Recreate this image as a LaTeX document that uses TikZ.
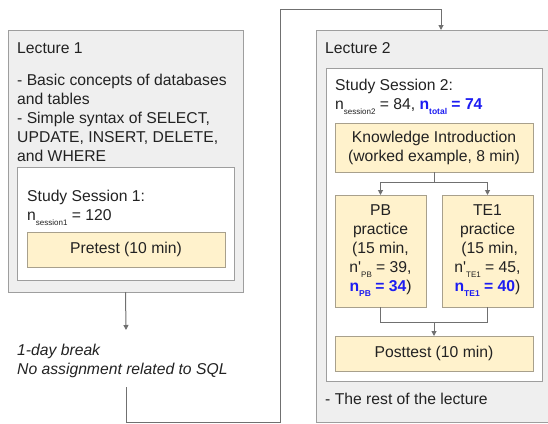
\documentclass[tikz,border=0pt]{standalone}
\usepackage{fontspec}
\setmainfont{Liberation Sans}
\usetikzlibrary{arrows.meta}
\definecolor{lecfill}{HTML}{EFEFEF}
\definecolor{boxline}{HTML}{9E9E9E}
\definecolor{stepfill}{HTML}{FFF2CC}
\definecolor{stepline}{HTML}{A8A08C}
\definecolor{nblue}{HTML}{1C1CF2}
\definecolor{ink}{HTML}{222222}
\definecolor{conn}{HTML}{707070}
\newcommand{\sbs}[1]{\raisebox{-5pt}{\fontsize{8}{8}\selectfont #1}}
\newcommand{\bsb}[1]{\raisebox{-5pt}{\fontsize{8.5}{8}\selectfont\bfseries #1}}
\begin{document}
\begin{tikzpicture}[x=1pt,y=-1pt,
  every node/.style={text=ink},
  basebox/.style={line width=1pt, anchor=north west, inner sep=0pt, outer sep=0pt},
  lecbox/.style={basebox, draw=boxline, fill=lecfill},
  sessbox/.style={basebox, draw=boxline, fill=white},
  stepbox/.style={basebox, draw=stepline, fill=stepfill, align=center,
    font=\fontsize{15.7}{19}\selectfont},
  txt/.style={inner sep=0pt, anchor=base west, align=left,
    font=\fontsize{15.7}{19}\selectfont},
  conline/.style={draw=conn, line width=1pt},
  arr/.style={conline, -{Triangle[width=5pt,length=5pt]}}
]
\useasboundingbox (0,0) rectangle (548,423);
\clip (0,0) rectangle (548,423);

% Lecture 1 (multi-line text nodes are placed by the baseline of their last line)
\node[lecbox, minimum width=235pt, minimum height=262pt] (l1) at (8,30) {};
\node[txt] (l1t) at (17,53) {Lecture 1};
\node[txt] (l1b) at (17,161) {- Basic concepts of databases\\and tables\\- Simple syntax of SELECT,\\UPDATE, INSERT, DELETE,\\and WHERE};
\node[sessbox, minimum width=217pt, minimum height=113pt] (s1) at (17,167) {};
\node[txt] (s1t) at (27,220) {Study Session 1:\\n\sbs{session1} = 120};
\node[stepbox, minimum width=198pt, minimum height=35pt] (pre) at (27,232) {Pretest (10 min)};

% break
\node[txt, font=\fontsize{15.7}{19}\selectfont\itshape] (brk) at (17,374) {1-day break\\No assignment related to SQL};
\coordinate (brkend) at (126,387);

% Lecture 2
\node[lecbox, minimum width=250pt, minimum height=392pt] (l2) at (316,30) {};
\node[txt] (l2t) at (325,53) {Lecture 2};
\node[sessbox, minimum width=216pt, minimum height=313pt] (s2) at (326,68) {};
\node[txt] (s2t) at (335,109) {Study Session 2:\\n\sbs{session2} = 84, {\color{nblue}\bfseries n\bsb{total} = 74}};
\node[stepbox, minimum width=198pt, minimum height=49pt] (ki) at (335,123) {Knowledge Introduction\\(worked example, 8 min)};
\node[stepbox, minimum width=91pt, minimum height=112pt] (pb) at (335,195)
  {PB\\practice\\(15 min,\\n\textquotesingle\sbs{PB} = 39,\\{\color{nblue}\bfseries n\bsb{PB} = 34})};
\node[stepbox, minimum width=91pt, minimum height=112pt] (te) at (442,195)
  {TE1\\practice\\\ (15 min,\\n\textquotesingle\sbs{TE1} = 45,\\{\color{nblue}\bfseries n\bsb{TE1} = 40})};
\node[stepbox, minimum width=198pt, minimum height=35pt] (post) at (335,336) {Posttest (10 min)};
\node[txt] (rest) at (325,404) {- The rest of the lecture};

% connectors
\draw[arr] (l1.south) -- (126,330);
\draw[arr] (brkend) -- (126,422) -- (280,422) -- (280,9) -- (l2.north |- 0,9) -- (l2.north);
\coordinate (split) at (ki.south |- 0,182);
\draw[conline] (ki.south) -- (split);
\draw[arr] (split) -| (pb.north);
\draw[arr] (split) -| (te.north);
\coordinate (merge) at (post.north |- 0,322);
\draw[conline] (pb.south) |- (merge);
\draw[conline] (te.south) |- (merge);
\draw[arr] (merge) -- (post.north);
\end{tikzpicture}
\end{document}
